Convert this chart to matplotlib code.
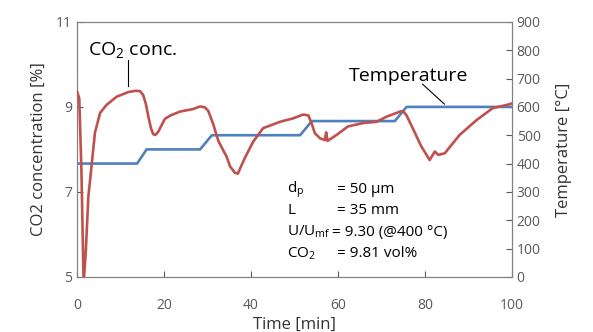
import matplotlib.pyplot as plt

plt.rcParams['font.family'] = ['Open Sans', 'DejaVu Sans']
plt.rcParams['mathtext.fontset'] = 'custom'
plt.rcParams['mathtext.rm'] = 'Open Sans'
plt.rcParams['mathtext.it'] = 'Open Sans'

# CO2 concentration [%] vs time [min]
co2_time = [0, 0.5, 1.0, 1.5, 2.0, 2.6, 3.4, 4.1, 5.3, 6.8, 9.1, 11.8, 13.5, 14.5, 15.2, 15.8,
            16.4, 17.0, 17.5, 18.0, 18.7, 20.2, 21.5, 23.7, 26.7, 28.3, 29.4, 30.2, 31.3, 32.5,
            33.5, 34.4, 35.2, 36.3, 37.0, 37.5, 38.6, 40.5, 42.8, 46.7, 49.7, 52.0, 53.2,
            54.0, 54.7, 55.9, 57.0, 57.3, 57.6, 59.7, 62.3, 65.8, 68.9, 71.2, 74.3, 75.0,
            75.8, 77.3, 79.2, 81.1, 82.3, 83.1, 84.6, 88.0, 91.9, 95.6, 99.0, 100]
co2_conc = [9.36, 9.2, 7.5, 4.85, 5.6, 6.9, 7.68, 8.39, 8.86, 9.05, 9.24, 9.35, 9.38, 9.37,
            9.28, 9.08, 8.77, 8.5, 8.36, 8.34, 8.42, 8.72, 8.8, 8.89, 8.95, 9.01, 8.99, 8.9,
            8.6, 8.2, 8.0, 7.83, 7.6, 7.45, 7.43, 7.55, 7.8, 8.18, 8.5, 8.65, 8.73, 8.82,
            8.8, 8.6, 8.38, 8.26, 8.22, 8.4, 8.2, 8.34, 8.54, 8.62, 8.65, 8.77, 8.89, 8.9,
            8.8, 8.48, 8.07, 7.75, 7.95, 7.87, 7.91, 8.34, 8.69, 8.97, 9.05, 9.08]

# Temperature [°C] vs time [min]
temp_time = [0, 13.8, 16.0, 28.3, 31.0, 51.3, 54.0, 73.1, 75.8, 100]
temp_value = [400, 400, 450, 450, 500, 500, 550, 550, 600, 600]

red = '#C0504D'
blue = '#4F81BD'
gray = '#595959'

fig, ax = plt.subplots(figsize=(5.93, 3.32), dpi=100)
fig.subplots_adjust(left=0.130, right=0.863, bottom=0.166, top=0.934)
ax2 = ax.twinx()

ax.plot(co2_time, co2_conc, color=red, lw=1.9, zorder=3)
ax2.plot(temp_time, temp_value, color=blue, lw=1.9)
ax.set_zorder(ax2.get_zorder() + 1)
ax.patch.set_visible(False)

ax.set_xlim(0, 100)
ax.set_ylim(5, 11)
ax2.set_ylim(0, 900)
ax.set_xticks([0, 20, 40, 60, 80, 100])
ax.set_yticks([5, 7, 9, 11])
ax2.set_yticks(range(0, 901, 100))

for a in (ax, ax2):
    a.tick_params(direction='in', length=4, colors=gray, labelsize=10, width=0.8)
    for s in a.spines.values():
        s.set_color('#808080')
ax.tick_params(axis='x', pad=15)

ax.set_xlabel('Time [min]', fontsize=12, color='#333333', labelpad=3)
ax.set_ylabel('CO2 concentration [%]', fontsize=12, color='#333333', labelpad=7)
ax2.set_ylabel('Temperature [°C]', fontsize=12, color='#333333', labelpad=11)

# series labels with leader lines
ax.text(2.5, 10.35, 'CO$_2$ conc.', fontsize=14, va='center', ha='left')
ax.plot([11.8, 11.8], [10.1, 9.5], color='black', lw=0.8)
ax2.text(62.5, 710, 'Temperature', fontsize=14, va='center', ha='left')
ax2.plot([79.5, 84.5], [680, 610], color='black', lw=0.8)

# conditions block
labels = ['d$_\\mathrm{p}$', 'L', 'U/U$_\\mathrm{mf}$', 'CO$_2$']
values = ['= 50 μm', '= 35 mm', '= 9.30 (@400 °C)', '= 9.81 vol%']
ys = [0.341, 0.259, 0.176, 0.092]
xv = [0.597, 0.597, 0.586, 0.597]
for lab, val, y, x in zip(labels, values, ys, xv):
    ax.text(0.483, y, lab, transform=ax.transAxes, fontsize=11, va='center')
    ax.text(x, y, val, transform=ax.transAxes, fontsize=11, va='center')

fig.savefig('out.png', dpi=100)
